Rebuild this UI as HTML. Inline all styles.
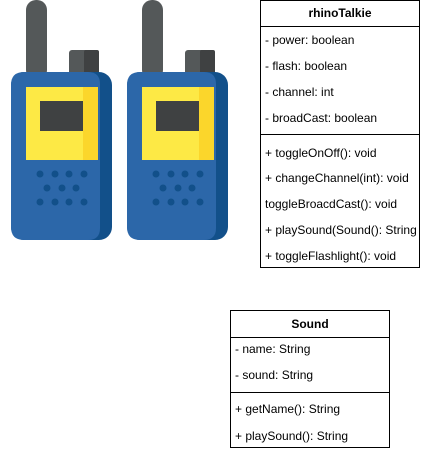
<!DOCTYPE html>
<html><head><meta charset="utf-8"><style>
html,body{margin:0;padding:0;background:#fff;}
svg{display:block}
text{font-family:"Liberation Sans",Arial,sans-serif;font-size:12px;fill:#000}
</style></head><body>
<svg width="421" height="452" viewBox="0 0 421 452" xmlns="http://www.w3.org/2000/svg">
<defs>
<g id="wt">
  <rect x="26" y="0" width="21" height="80" rx="10" fill="#545859"/>
  <rect x="69" y="50" width="30" height="30" rx="3" fill="#545859"/>
  <rect x="84" y="50" width="15" height="30" rx="2" fill="#3f4142"/>
  <rect x="11" y="72" width="101" height="168" rx="13" fill="#12508a"/>
  <path d="M24 72 H88 Q100 72 100 84 V228 Q100 240 88 240 H24 Q11 240 11 227 V85 Q11 72 24 72Z" fill="#2c67a9"/>
  <rect x="26" y="87" width="72" height="73" fill="#fde945"/>
  <rect x="83" y="87" width="15" height="73" fill="#fbd62b"/>
  <rect x="40" y="101" width="43" height="30" fill="#3f4142"/>
  <g fill="#12508a">
    <circle cx="40" cy="174" r="3.5"/><circle cx="55" cy="174" r="3.5"/><circle cx="69" cy="174" r="3.5"/><circle cx="84" cy="174" r="3.5"/>
    <circle cx="47" cy="188" r="3.5"/><circle cx="62" cy="188" r="3.5"/><circle cx="76" cy="188" r="3.5"/>
    <circle cx="40" cy="202" r="3.5"/><circle cx="55" cy="202" r="3.5"/><circle cx="69" cy="202" r="3.5"/><circle cx="84" cy="202" r="3.5"/>
  </g>
</g>
</defs>
<use href="#wt"/>
<use href="#wt" x="116"/>

<rect x="260.5" y="0.5" width="159" height="267" fill="#fff" stroke="#000"/>
<line x1="260" y1="26.5" x2="420" y2="26.5" stroke="#000"/>
<line x1="260" y1="134.5" x2="420" y2="134.5" stroke="#000"/>
<text x="340" y="17" text-anchor="middle" font-weight="bold">rhinoTalkie</text>
<text x="265" y="44">- power: boolean</text>
<text x="265" y="70">- flash: boolean</text>
<text x="265" y="96">- channel: int</text>
<text x="265" y="122">- broadCast: boolean</text>
<text x="265" y="157">+ toggleOnOff(): void</text>
<text x="265" y="182">+ changeChannel(int): void</text>
<text x="265" y="208">toggleBroacdCast(): void</text>
<text x="265" y="234">+ playSound(Sound(): String</text>
<text x="265" y="260">+ toggleFlashlight(): void</text>

<rect x="230.5" y="310.5" width="159" height="137" fill="#fff" stroke="#000"/>
<line x1="230" y1="337.5" x2="390" y2="337.5" stroke="#000"/>
<line x1="230" y1="392.5" x2="390" y2="392.5" stroke="#000"/>
<text x="310" y="328" text-anchor="middle" font-weight="bold">Sound</text>
<text x="235" y="353">- name: String</text>
<text x="235" y="379">- sound: String</text>
<text x="235" y="413">+ getName(): String</text>
<text x="235" y="440">+ playSound(): String</text>
</svg>
</body></html>
